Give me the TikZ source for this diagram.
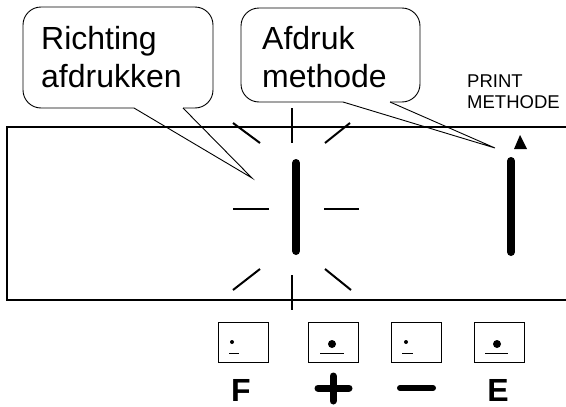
\documentclass[tikz,border=0pt]{standalone}
\usepackage{fontspec}
\setmainfont{Liberation Sans}
\usetikzlibrary{positioning}

\begin{document}
\begin{tikzpicture}[x=1pt,y=-1pt,
    bubble/.style={draw,line width=0.9pt,rounded corners=18pt},
    pointer/.style={line width=0.9pt},
    bubbletext/.style={anchor=base west,align=left,inner sep=0pt,font=\fontsize{32}{38}\selectfont},
    flash/.style={line width=2pt},
    seg/.style={line width=8pt,line cap=round},
    key/.style={draw,line width=1pt,minimum width=50pt,minimum height=40pt,inner sep=0pt},
    keylabel/.style={anchor=base,inner sep=0pt,font=\fontsize{32}{32}\selectfont\bfseries},
    sign/.style={line width=7pt,line cap=round}]
    \useasboundingbox (0,0) rectangle (566,407);

    % display panel
    \draw[line width=2.3pt] (570,127) -- (7,127) -- (7,300) -- (570,300);
    \node[inner sep=0pt] (digit) at (296,207) {};
    \draw[seg] (296,163) -- (296,251);
    \draw[seg] (511,161) -- (511,252);
    \fill (520,135) -- (527,149) -- (514,149) -- cycle;
    \foreach \p/\q in {{(292,108)}/{(292,143)}, {(292,275)}/{(292,310)},
                       {(233,123)}/{(260,143)}, {(350,123)}/{(325,143)},
                       {(233,209)}/{(269,209)}, {(324,209)}/{(359,209)},
                       {(233,290)}/{(260,269)}, {(351,290)}/{(325,269)}}
        \draw[flash] \p -- \q;

    % callouts
    \node[bubbletext] (richting) at (41,87) {Richting\\afdrukken};
    \coordinate (tipR) at (252,178);
    \draw[bubble] (134,108) -- (23,108) -- (23,7) -- (213,7) -- (213,108) -- (183,108);
    \draw[pointer] (134,108) -- (tipR) -- (183,108);

    \node[bubbletext] (afdruk) at (262,87) {Afdruk\\methode};
    \coordinate (tipA) at (495,148);
    \draw[bubble] (343,102) -- (241,102) -- (241,8) -- (420,8) -- (420,102) -- (390,102);
    \draw[pointer] (343,102) -- (tipA) -- (390,102);

    \node[anchor=base west,align=left,inner sep=0pt,font=\fontsize{18.5}{21}\selectfont] (printm) at (467,108) {PRINT\\METHODE};

    % keys
    \node[key] (keyF) at (243,342) {};
    \node[key] (keyplus) at (333,342) {};
    \node[key] (keymin) at (416,342) {};
    \node[key] (keyE) at (499,342) {};
    \foreach \k/\dx/\dy/\r/\ux/\ul in {keyF/-11/0/2/-14/10, keyplus/-1/-2/4/-13/24,
                                      keymin/-10/0/2/-14/11, keyE/-2/-2/4/-14/23}
    {
        \fill ([xshift=\dx pt,yshift=\dy pt]\k.center) circle (\r pt);
        \draw[line width=1pt] ([xshift=\ux pt,yshift=-11pt]\k.center) -- ++(\ul pt,0);
    }

    % key labels
    \node[keylabel] (labF) at (241,401) {F};
    \node[keylabel] (labE) at (498,401) {E};
    \draw[sign] (318,388) -- (349,388);
    \draw[sign] (333,376) -- (333,401);
    \draw[sign,line width=6pt] (400,388) -- (433,388);
\end{tikzpicture}
\end{document}
